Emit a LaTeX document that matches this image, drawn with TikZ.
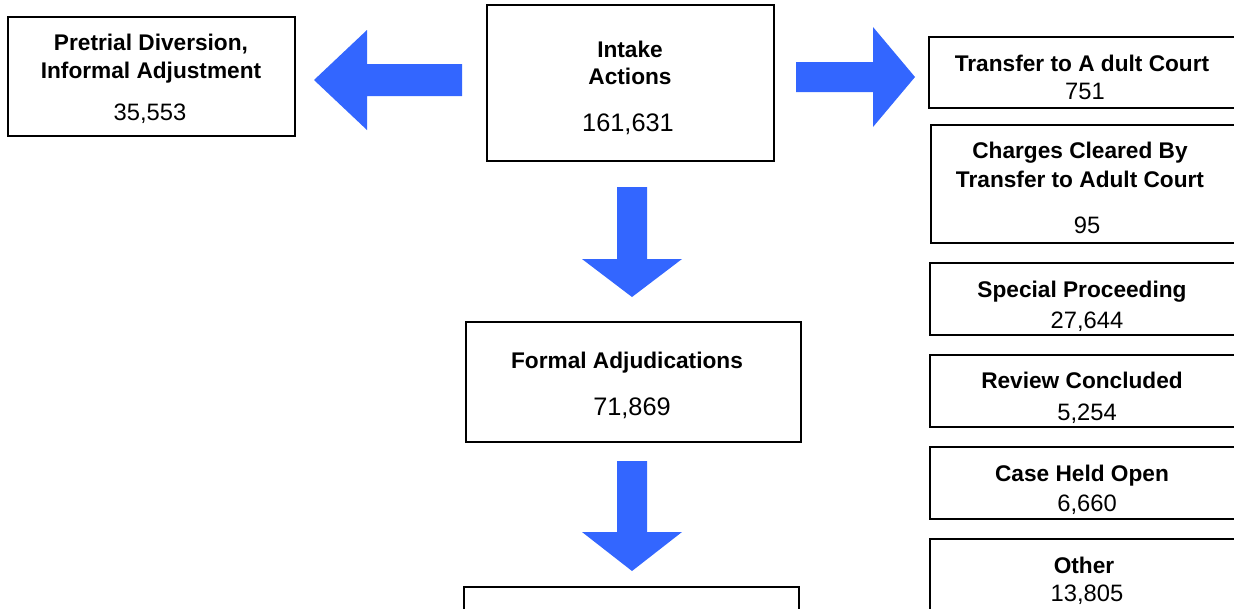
\documentclass[tikz,border=0pt]{standalone}
\usepackage{fontspec}
\setmainfont{Liberation Sans}
\usetikzlibrary{fit}
\definecolor{arrowblue}{RGB}{51,102,255}
\tikzset{
  box/.style={draw=black, line width=1.5pt, inner sep=0pt, fill=white},
  lbl/.style={anchor=base, inner sep=0pt, font=\fontsize{17pt}{20pt}\selectfont\bfseries},
  num/.style={anchor=base, inner sep=0pt, font=\fontsize{17.8pt}{21pt}\selectfont},
  bignum/.style={anchor=base, inner sep=0pt, font=\fontsize{19pt}{22pt}\selectfont},
  blockarrow/.style={fill=arrowblue, draw=none}
}
\begin{document}
\begin{tikzpicture}[x=0.75pt,y=-0.75pt]
\useasboundingbox (0,0) rectangle (1234,608);
\clip (0,0) rectangle (1234,608);

% boxes
\node[box, fit={(8,17) (295,136)}] (pretrial) {};
\node[box, fit={(487,5) (774,161)}] (intake) {};
\node[box, fit={(466,322) (801,442)}] (formal) {};
\node[box, fit={(464,587) (799,640)}] (final) {};
\node[box, fit={(929,37) (1245,108)}] (transfer) {};
\node[box, fit={(931,125) (1245,243)}] (charges) {};
\node[box, fit={(930,263) (1245,335)}] (special) {};
\node[box, fit={(930,355) (1245,427)}] (review) {};
\node[box, fit={(930,447) (1245,519)}] (caseheld) {};
\node[box, fit={(930,539) (1245,640)}] (other) {};

% texts
\node[lbl] (pretrialA) at (151,50) {Pretrial Diversion,};
\node[lbl] (pretrialB) at (151,78) {Informal Adjustment};
\node[num] (pretrialN) at (150,120.5) {35,553};

\node[lbl] (intakeA) at (630,57.6) {Intake};
\node[lbl] (intakeB) at (630,84.6) {Actions};
\node[bignum] (intakeN) at (628,131.5) {161,631};

\node[lbl] (formalA) at (627,368.6) {Formal Adjudications};
\node[bignum] (formalN) at (632,415.2) {71,869};

\node[lbl] (transferA) at (1082,71.4) {Transfer to A dult Court};
\node[num] (transferN) at (1085,99.8) {751};

\node[lbl] (chargesA) at (1080,158.1) {Charges Cleared By};
\node[lbl] (chargesB) at (1080,187.8) {Transfer to Adult Court};
\node[num] (chargesN) at (1087,233) {95};

\node[lbl] (specialA) at (1082,297.6) {Special Proceeding};
\node[num] (specialN) at (1087,328.5) {27,644};

\node[lbl] (reviewA) at (1082,388.9) {Review Concluded};
\node[num] (reviewN) at (1087,420.3) {5,254};

\node[lbl] (caseheldA) at (1082,481.4) {Case Held Open};
\node[num] (caseheldN) at (1087,511.5) {6,660};

\node[lbl] (otherA) at (1084,573.9) {Other};
\node[num] (otherN) at (1087,601.7) {13,805};

% block arrows
\fill[blockarrow] (462,64) -- (367,64) -- (367,30) -- (314,80) -- (367,130) -- (367,96) -- (462,96) -- cycle;
\fill[blockarrow] (796,62) -- (873,62) -- (873,27) -- (915,77) -- (873,127) -- (873,92) -- (796,92) -- cycle;
\fill[blockarrow] (617,187) -- (647,187) -- (647,259) -- (682,259) -- (632,297) -- (582,259) -- (617,259) -- cycle;
\fill[blockarrow] (617,461) -- (647,461) -- (647,532) -- (682,532) -- (632,571) -- (582,532) -- (617,532) -- cycle;
\end{tikzpicture}
\end{document}
